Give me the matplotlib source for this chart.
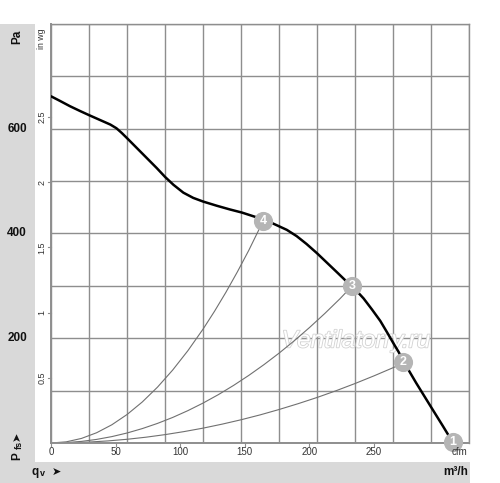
import matplotlib
matplotlib.use("Agg")
import matplotlib.pyplot as plt
from matplotlib.patches import Rectangle
from matplotlib.transforms import blended_transform_factory
import matplotlib.patheffects as pe

plt.rcParams['font.family'] = ['Liberation Sans', 'DejaVu Sans']

# ---- data (m³/h, Pa) ----
fan_q = [0, 12, 25, 38, 50, 64, 78, 86, 93, 100, 113, 126, 139, 150, 161, 174, 187, 200,
         218, 235, 251, 268, 279, 292, 310, 323, 336, 350, 363, 376, 386, 396, 404, 411,
         422, 433, 442, 450, 457, 463, 480, 500, 515, 528]
fan_p = [662, 653, 643, 634, 626, 617, 608, 601, 592, 582, 563, 544, 525, 508, 493, 478,
         468, 461, 453, 446, 440, 432, 426, 419, 407, 395, 380, 362, 344, 326, 312, 298,
         287, 276, 255, 233, 211, 191, 174, 157, 115, 68, 33, 2]

sys4_q = [0, 20, 40, 60, 80, 100, 120, 140, 160, 180, 200, 215, 230, 245, 260, 279]
sys4_p = [0, 2.2, 8.7, 19.6, 34.8, 54.4, 78.3, 106.6, 139.3, 176.3, 217.6, 251.5, 287.8,
          326.6, 367.7, 424]

sys3_q = [0, 20, 40, 60, 80, 100, 120, 140, 160, 180, 200, 220, 240, 260, 280, 300, 320,
          340, 360, 380, 396]
sys3_p = [0, 0.76, 3.05, 6.87, 12.2, 19.1, 27.5, 37.4, 48.8, 61.8, 76.3, 92.3, 109.9,
          129.0, 149.6, 171.7, 195.4, 220.6, 247.3, 275.5, 300]

sys2_q = [0, 25, 50, 75, 100, 125, 150, 175, 200, 225, 250, 275, 300, 325, 350, 375,
          400, 425, 450, 463]
sys2_p = [0, 0.44, 1.8, 4.0, 7.1, 11.1, 16, 21.8, 28.4, 36, 44.4, 53.7, 64, 75.1, 87,
          99.9, 113.7, 128.4, 143.9, 152]

point_labels = ['1', '2', '3', '4']
point_q = [528, 463, 396, 279]
point_p = [2, 154, 300, 424]

pa_ticks = [200, 400, 600]
m3h_ticks = [100, 200, 300, 400]
inwg_ticks = [0.5, 1, 1.5, 2, 2.5]
inwg_labels = ['0.5', '1', '1.5', '2', '2.5']
cfm_ticks = [0, 50, 100, 150, 200, 250]

PA_PER_INWG = 249.089
M3H_PER_CFM = 1.69901

W, H = 500, 483
fig = plt.figure(figsize=(W / 100, H / 100), dpi=100)
fig.patch.set_facecolor('white')

gray = '#d9d9d9'
fig.patches.append(Rectangle((0, 0), 35 / W, (H - 24) / H, transform=fig.transFigure,
                             facecolor=gray, edgecolor='none', zorder=0))
fig.patches.append(Rectangle((0, 0), 470 / W, 21 / H, transform=fig.transFigure,
                             facecolor=gray, edgecolor='none', zorder=0))

ax = fig.add_axes([51 / W, 40 / H, 418.3 / W, 419 / H])
ax.set_xlim(0, 550)
ax.set_ylim(0, 800)
ax.set_xticks(range(0, 551, 50))
ax.set_yticks(range(0, 801, 100))
ax.tick_params(length=0, labelbottom=False, labelleft=False)
ax.grid(True, color='#8e8e8e', lw=1.0)
for s in ax.spines.values():
    s.set_color('#8e8e8e')
    s.set_linewidth(1.0)
ax.spines['left'].set_linewidth(1.4)
ax.spines['bottom'].set_linewidth(1.4)
ax.set_axisbelow(True)

# watermark
ax.text(401, 195, 'Ventilatorry.ru', fontsize=17.5, style='italic', color='white',
        ha='center', va='center', zorder=1,
        path_effects=[pe.Stroke(linewidth=1.2, foreground='#d2d2d2'), pe.Normal()])

ax.plot(sys4_q, sys4_p, color='#707070', lw=0.8, zorder=2)
ax.plot(sys3_q, sys3_p, color='#707070', lw=0.8, zorder=2)
ax.plot(sys2_q, sys2_p, color='#707070', lw=0.8, zorder=2)
ax.plot(fan_q, fan_p, color='black', lw=1.8, zorder=3, solid_capstyle='round',
        solid_joinstyle='round')

for lab, q, p in zip(point_labels, point_q, point_p):
    ax.plot(q, p, 'o', ms=13.8, color='#b5b5b5', mec='none', zorder=4, clip_on=False)
    ax.text(q, p, lab, ha='center', va='center', color='white', fontsize=9,
            fontweight='bold', zorder=5, clip_on=False)

# secondary scales
tr_y = blended_transform_factory(fig.transFigure, ax.transData)
tr_x = blended_transform_factory(ax.transData, fig.transFigure)

for v in pa_ticks:
    fig.text(17 / W, 0, str(v), transform=tr_y, ha='center', va='center',
             fontsize=8.5, fontweight='bold', color='#111111').set_y(v)
fig.text(17 / W, 1 - 37 / H, 'Pa', rotation=90, ha='center', va='center',
         fontsize=8.5, fontweight='bold', color='#111111')

for v, lab in zip(inwg_ticks, inwg_labels):
    t = ax.text(0, v * PA_PER_INWG, lab, transform=tr_y, rotation=90,
                ha='center', va='center', fontsize=6.5, color='#333333')
    t.set_x(42 / W)
    ax.plot([-4.5, 0], [v * PA_PER_INWG] * 2, color='#8e8e8e', lw=0.8, clip_on=False)
fig.text(42 / W, 1 - 39 / H, 'in wg', rotation=90, ha='center', va='center',
         fontsize=6.3, color='#333333')

for v in cfm_ticks:
    q = v * M3H_PER_CFM
    ax.text(q, 1 - 452 / H, str(v), transform=tr_x, ha='center', va='center',
            fontsize=7, color='#333333')
    ax.plot([q, q], [0, -6], color='#8e8e8e', lw=0.8, clip_on=False)
fig.text(460 / W, 1 - 452 / H, 'cfm', ha='center', va='center', fontsize=7,
         color='#333333', zorder=0)

for v in m3h_ticks:
    ax.text(v, 1 - 472 / H, str(v), transform=tr_x, ha='center', va='center',
            fontsize=8.5, fontweight='bold', color='#111111')
fig.text(468 / W, 1 - 472 / H, 'm³/h', ha='right', va='center', fontsize=8.5,
         fontweight='bold', color='#111111')

fig.text(32 / W, 1 - 472 / H, 'q', ha='left', va='center', fontsize=8.5,
         fontweight='bold', color='#111111')
fig.text(39.5 / W, 1 - 474 / H, 'v', ha='left', va='center', fontsize=6.5,
         fontweight='bold', color='#111111')
fig.text(56 / W, 1 - 472 / H, '➤', ha='center', va='center', fontsize=8,
         color='#111111', family=['DejaVu Sans'])

fig.text(17 / W, 1 - 456 / H, 'P', rotation=90, ha='center', va='center',
         fontsize=8.5, fontweight='bold', color='#111111')
fig.text(19.5 / W, 1 - 445 / H, 'fs', rotation=90, ha='center', va='center',
         fontsize=6.5, fontweight='bold', color='#111111')
fig.text(17 / W, 1 - 436 / H, '➤', rotation=90, ha='center', va='center',
         fontsize=8, color='#111111', family=['DejaVu Sans'])

fig.savefig('out.png', dpi=100, facecolor='white')
